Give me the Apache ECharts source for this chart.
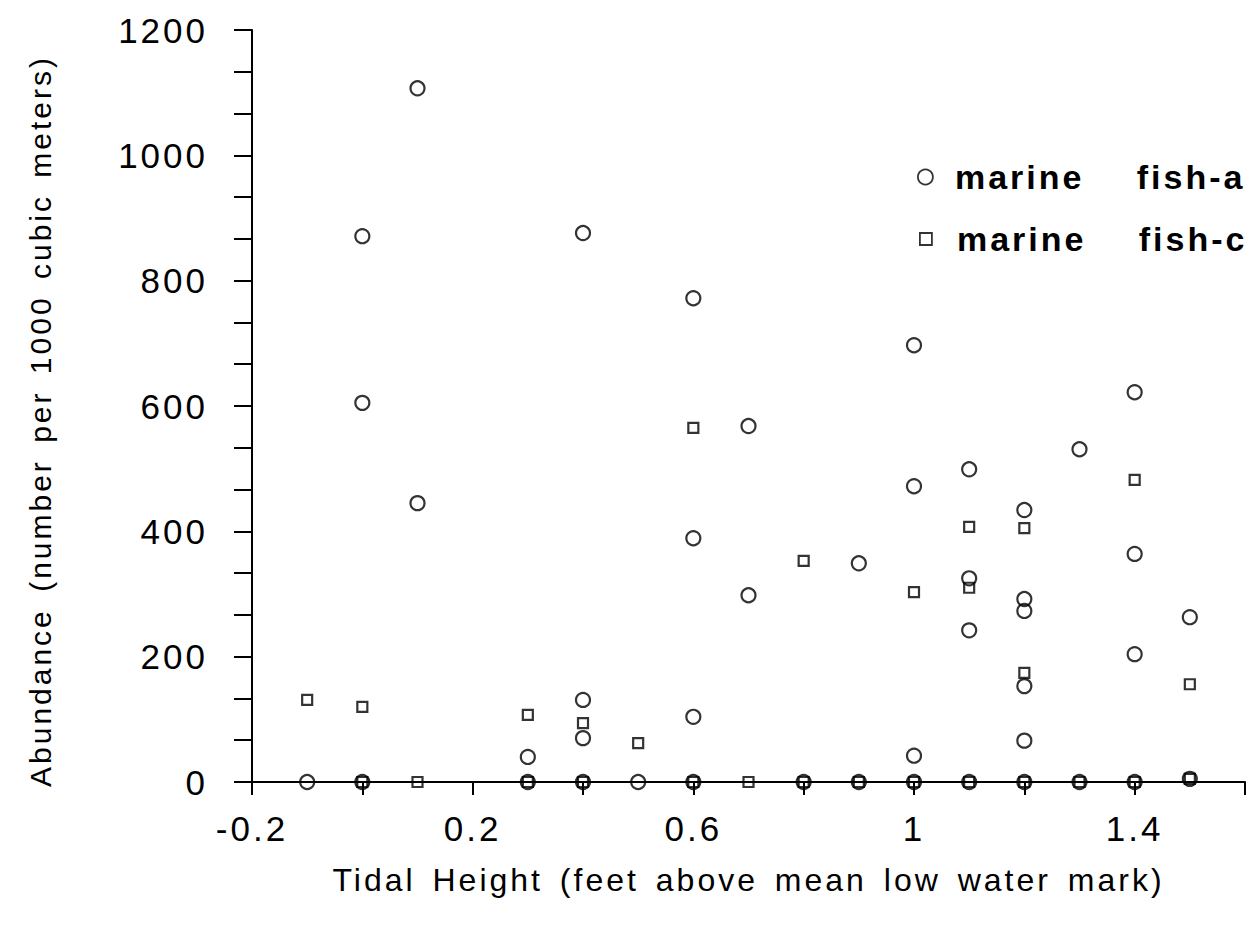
<!DOCTYPE html>
<html><head><meta charset="utf-8">
<script src="https://cdn.jsdelivr.net/npm/echarts@6/dist/echarts.min.js"></script>
<style>
html,body{margin:0;padding:0;background:#fff;}
#chart{width:1258px;height:926px;}
#chart svg text{letter-spacing:3px;word-spacing:5px;white-space:pre;}
</style></head><body><div id="chart"></div>
<script>
// Tidal height (ft) and abundance pairs
const fishA = [
  [-0.1,0],
  [0.0,871],[0.0,605],[0.0,0],
  [0.1,1107],[0.1,445],
  [0.3,40],[0.3,0],
  [0.4,876],[0.4,131],[0.4,70],[0.4,0],
  [0.5,0],
  [0.6,772],[0.6,389],[0.6,104],[0.6,0],
  [0.7,568],[0.7,298],
  [0.8,0],
  [0.9,349],[0.9,0],
  [1.0,697],[1.0,472],[1.0,42],[1.0,0],
  [1.1,499],[1.1,325],[1.1,242],[1.1,0],
  [1.2,434],[1.2,292],[1.2,273],[1.2,153],[1.2,66],[1.2,0],
  [1.3,531],[1.3,0],
  [1.4,622],[1.4,364],[1.4,204],[1.4,0],
  [1.5,263],[1.5,5]
];
const fishC = [
  [-0.1,131],
  [0.0,120],[0.0,0],
  [0.1,0],
  [0.3,107],[0.3,0],
  [0.4,94],[0.4,0],
  [0.5,62],
  [0.6,565],[0.6,0],
  [0.7,0],
  [0.8,353],[0.8,0],
  [0.9,0],
  [1.0,303],[1.0,0],
  [1.1,407],[1.1,310],[1.1,0],
  [1.2,405],[1.2,174],[1.2,0],
  [1.3,0],
  [1.4,482],[1.4,0],
  [1.5,156],[1.5,5]
];
const seriesNames = ['marine fish-a', 'marine fish-c'];
const xLabelValues = [-0.2, 0.2, 0.6, 1.0, 1.4];
const xLabelTexts = ['-0.2', '0.2', '0.6', '1', '1.4'];
const xTitle = 'Tidal Height (feet above mean low water mark)';
const yTitle = 'Abundance (number per 1000 cubic meters)';

const chart = echarts.init(document.getElementById('chart'), null, {renderer: 'svg'});
const FONT = 'Liberation Sans';
const markerStyle = {color: 'rgba(0,0,0,0)', borderColor: '#000', borderWidth: 2.2};
const legendText = function (name) { return name.replace(' ', '   '); };
chart.setOption({
  animation: false,
  backgroundColor: '#fff',
  grid: {left: 252, right: 13, top: 30, bottom: 144},
  xAxis: {
    type: 'value', min: -0.2, max: 1.6, interval: 0.2,
    name: xTitle, nameLocation: 'middle', nameGap: 82,
    nameTextStyle: {fontFamily: FONT, fontSize: 32, color: '#000'},
    axisLine: {onZero: false, lineStyle: {color: '#000', width: 2}},
    axisTick: {show: true, length: 13, lineStyle: {color: '#000', width: 2}},
    splitLine: {show: false},
    axisLabel: {
      fontFamily: FONT, fontSize: 35, color: '#000', margin: 29,
      showMinLabel: true, showMaxLabel: true,
      formatter: function (v) {
        for (let i = 0; i < xLabelValues.length; i++) {
          if (Math.abs(v - xLabelValues[i]) < 1e-6) return xLabelTexts[i];
        }
        return '';
      }
    }
  },
  yAxis: {
    type: 'value', min: 0, max: 1200, interval: 200,
    name: yTitle, nameLocation: 'middle', nameGap: 197,
    nameTextStyle: {fontFamily: FONT, fontSize: 30, color: '#000', padding: [0, 30, 0, 0]},
    axisLine: {onZero: false, lineStyle: {color: '#000', width: 2}},
    axisTick: {show: true, length: 18, lineStyle: {color: '#000', width: 2}},
    minorTick: {show: true, splitNumber: 3, length: 18, lineStyle: {color: '#000', width: 2}},
    splitLine: {show: false},
    axisLabel: {fontFamily: FONT, fontSize: 35, color: '#000', margin: 44,
      formatter: function (v) { return String(v); }}
  },
  legend: [
    {
      data: [{name: seriesNames[0], icon: 'circle'}], formatter: legendText,
      left: 912, top: 155, itemWidth: 15, itemHeight: 15,
      itemStyle: {color: 'rgba(0,0,0,0)', borderColor: '#000', borderWidth: 1.8},
      textStyle: {fontFamily: FONT, fontSize: 34, fontWeight: 'bold', color: '#000', padding: [0, 0, 0, 17]}
    },
    {
      data: [{name: seriesNames[1], icon: 'rect'}], formatter: legendText,
      left: 914, top: 217, itemWidth: 12, itemHeight: 12,
      itemStyle: {color: 'rgba(0,0,0,0)', borderColor: '#000', borderWidth: 1.8},
      textStyle: {fontFamily: FONT, fontSize: 34, fontWeight: 'bold', color: '#000', padding: [0, 0, 0, 20]}
    }
  ],
  series: [
    {name: seriesNames[0], type: 'scatter', symbol: 'circle', symbolSize: 14, data: fishA, itemStyle: markerStyle},
    {name: seriesNames[1], type: 'scatter', symbol: 'rect', symbolSize: 10, data: fishC, itemStyle: markerStyle}
  ]
});
</script></body></html>
